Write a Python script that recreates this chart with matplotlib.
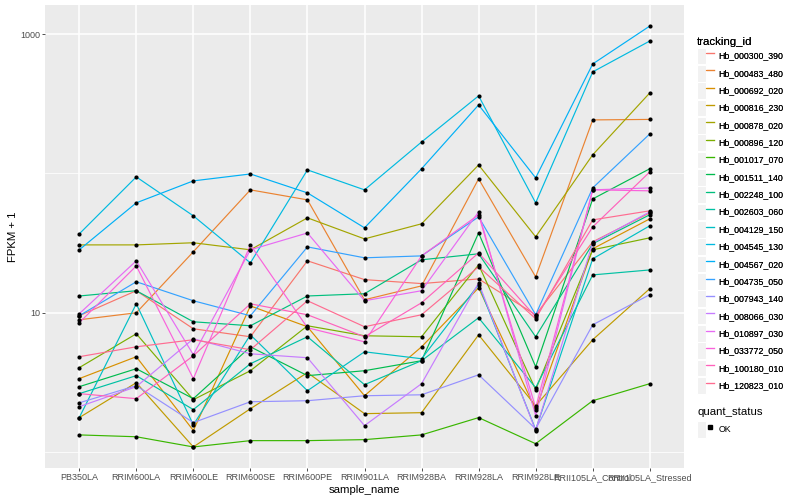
import numpy as np
import matplotlib.pyplot as plt
from matplotlib.lines import Line2D
from matplotlib.patches import Patch
from matplotlib.legend_handler import HandlerTuple
from matplotlib.ticker import NullFormatter

plt.rcParams['font.family'] = ['Liberation Sans', 'DejaVu Sans']

# samples on the x axis
samples = ["PB350LA", "RRIM600LA", "RRIM600LE", "RRIM600SE", "RRIM600PE",
           "RRIM901LA", "RRIM928BA", "RRIM928LA", "RRIM928LE",
           "RRII105LA_Control", "RRII105LA_Stressed"]

tracking_ids = ["Hb_000300_390", "Hb_000483_480", "Hb_000692_020", "Hb_000816_230",
                "Hb_000878_020", "Hb_000896_120", "Hb_001017_070", "Hb_001511_140",
                "Hb_002248_100", "Hb_002603_060", "Hb_004129_150", "Hb_004545_130",
                "Hb_004567_020", "Hb_004735_050", "Hb_007943_140", "Hb_008066_030",
                "Hb_010897_030", "Hb_033772_050", "Hb_100180_010", "Hb_120823_010"]

# FPKM + 1, one list per gene
hb_000300_390 = [9.52, 14.4, 7.68, 6.73, 23.6, 17.3, 16.2, 17.5, 9.68, 32.3, 52.1]
hb_000483_480 = [8.91, 10.0, 27.4, 76.2, 64.6, 12.4, 15.6, 91.4, 18.1, 242, 244]
hb_000692_020 = [3.37, 4.84, 1.43, 11.2, 7.94, 2.54, 5.70, 15.1, 2.02, 28.8, 47.2]
hb_000816_230 = [1.77, 3.15, 1.09, 2.05, 3.72, 1.89, 1.92, 6.95, 2.15, 6.41, 14.9]
hb_000878_020 = [30.7, 30.7, 31.8, 28.3, 48.0, 33.9, 43.5, 115, 35.1, 136, 378]
hb_000896_120 = [4.04, 7.07, 2.38, 3.84, 8.07, 6.84, 6.73, 22.1, 2.81, 28.3, 34.5]
hb_001017_070 = [1.33, 1.29, 1.09, 1.21, 1.21, 1.23, 1.33, 1.77, 1.15, 2.34, 3.10]
hb_001511_140 = [2.95, 3.97, 2.42, 5.70, 3.54, 3.84, 4.53, 37.4, 4.10, 65.6, 108]
hb_002248_100 = [13.2, 14.4, 8.62, 8.07, 13.2, 13.7, 24.0, 26.5, 6.73, 31.3, 50.5]
hb_002603_060 = [2.63, 3.54, 2.02, 4.31, 6.73, 3.05, 4.53, 9.21, 2.90, 18.7, 20.3]
hb_004129_150 = [1.77, 11.6, 1.57, 6.95, 2.76, 5.25, 4.68, 15.9, 1.45, 24.4, 42.1]
hb_004545_130 = [36.8, 94.4, 49.6, 22.8, 106, 76.2, 168, 360, 61.5, 535, 891]
hb_004567_020 = [28.3, 61.5, 88.4, 99.1, 72.5, 40.7, 108, 310, 92.9, 610, 1141]
hb_004735_050 = [9.52, 16.7, 12.2, 9.52, 29.7, 24.8, 25.6, 48.8, 9.68, 78.7, 192]
hb_007943_140 = [2.26, 3.00, 1.63, 2.30, 2.34, 2.54, 2.58, 3.59, 1.47, 8.20, 13.5]
hb_008066_030 = [2.12, 2.95, 6.51, 5.08, 4.76, 1.55, 3.10, 16.4, 1.43, 31.8, 53.0]
hb_010897_030 = [9.84, 23.6, 5.00, 28.3, 37.4, 12.2, 14.4, 53.0, 1.83, 76.2, 78.7]
hb_033772_050 = [8.48, 21.7, 3.37, 30.7, 7.81, 6.19, 25.6, 50.5, 2.08, 76.2, 75.0]
hb_100180_010 = [2.63, 2.42, 4.92, 11.6, 9.68, 6.73, 11.8, 26.9, 9.36, 41.3, 102.5]
hb_120823_010 = [4.84, 5.70, 6.41, 5.43, 12.2, 7.94, 9.68, 21.4, 9.06, 46.4, 53.9]

series = [hb_000300_390, hb_000483_480, hb_000692_020, hb_000816_230, hb_000878_020,
          hb_000896_120, hb_001017_070, hb_001511_140, hb_002248_100, hb_002603_060,
          hb_004129_150, hb_004545_130, hb_004567_020, hb_004735_050, hb_007943_140,
          hb_008066_030, hb_010897_030, hb_033772_050, hb_100180_010, hb_120823_010]

# ggplot hue palette, 20 levels
colors = ["#F8766D", "#EA8331", "#D89000", "#C09B00", "#A3A500", "#7CAE00", "#39B600",
          "#00BB4E", "#00BF7D", "#00C1A3", "#00BFC4", "#00BAE0", "#00B0F6", "#35A2FF",
          "#9590FF", "#C77CFF", "#E76BF3", "#FA62DB", "#FF62BC", "#FF6C91"]

fig = plt.figure(figsize=(8, 5), dpi=100)
ax = fig.add_axes([45/800, 1-468/500, (684-45)/800, (468-5)/500])
ax.set_facecolor('#EBEBEB')
for s in ax.spines.values():
    s.set_visible(False)

x = np.arange(len(samples))
for vals, col in zip(series, colors):
    ax.plot(x, vals, color=col, lw=0.85, zorder=2)
for vals in series:
    ax.plot(x, vals, 'o', color='black', ms=3.0, mew=0, zorder=3)

ax.set_yscale('log')
allv = np.log10(np.concatenate([np.array(v) for v in series]))
span = allv.max() - allv.min()
ax.set_ylim(10**(allv.min() - 0.05*span), 10**(allv.max() + 0.05*span))
ax.set_xlim(-0.6, len(samples) - 0.4)

ax.set_yticks([10, 1000])
ax.set_yticklabels(["10", "1000"])
ax.set_yticks([1, 100], minor=True)
ax.yaxis.set_minor_formatter(NullFormatter())
ax.set_xticks(x)
ax.set_xticklabels(samples)

ax.grid(which='major', color='white', lw=1.1, zorder=0)
ax.grid(which='minor', axis='y', color='white', lw=0.55, zorder=0)
ax.set_axisbelow(True)
ax.tick_params(which='major', length=2.2, width=0.6, color='#333333',
               labelsize=6.5, labelcolor='#4D4D4D', pad=1.5)
ax.tick_params(which='minor', length=0)

ax.set_xlabel("sample_name", fontsize=8.2, labelpad=2)
ax.set_ylabel("FPKM + 1", fontsize=8.2, labelpad=1)

# legends
key_bg = Patch(facecolor='#F2F2F2', edgecolor='white', lw=0.8)
handles = [(key_bg, Line2D([], [], color=c, lw=0.85)) for c in colors]
leg1 = fig.legend(handles, tracking_ids, loc='upper left', bbox_to_anchor=(0.866, 0.935),
                  frameon=False, fontsize=6.3, title="tracking_id", title_fontsize=8.2,
                  handler_map={tuple: HandlerTuple(ndivide=None, pad=0)},
                  handlelength=1.95, handleheight=2.55, labelspacing=0.08,
                  handletextpad=0.5, borderpad=0, alignment='left')
fig.add_artist(leg1)
ok_handle = (key_bg, Line2D([], [], ls='', marker='s', color='black', ms=2.6))
leg2 = fig.legend([ok_handle], ["OK"], loc='upper left', bbox_to_anchor=(0.866, 0.195),
                  frameon=False, fontsize=6.3, title="quant_status", title_fontsize=8.2,
                  handler_map={tuple: HandlerTuple(ndivide=None, pad=0)},
                  handlelength=1.95, handleheight=2.55, handletextpad=0.5,
                  borderpad=0, alignment='left')

fig.savefig("out.png", dpi=100)
